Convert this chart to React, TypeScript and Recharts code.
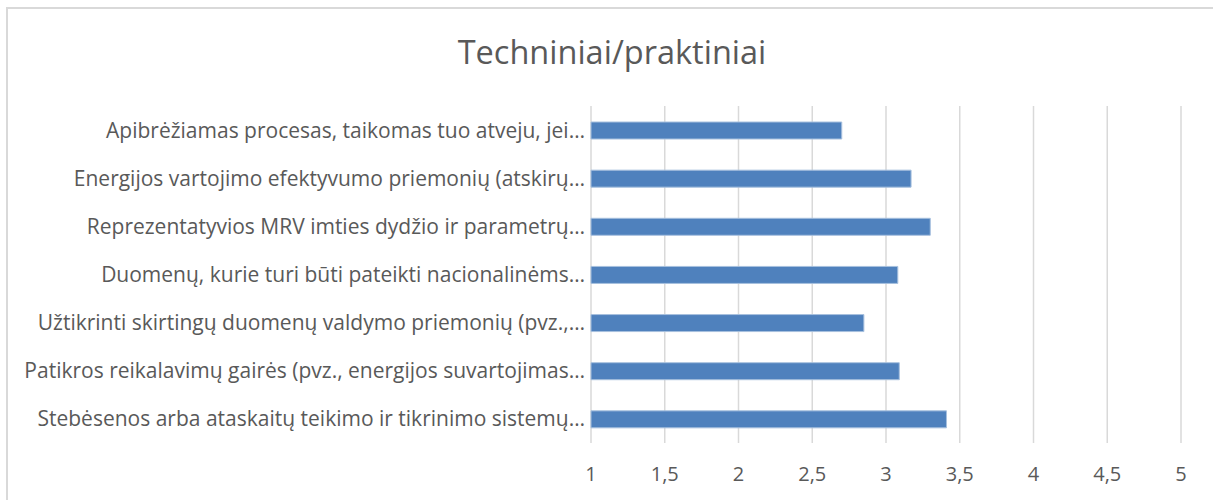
import React from 'react';
import { BarChart, Bar, XAxis, YAxis, CartesianGrid } from 'recharts';

const categories = [
  'Apibrėžiamas procesas, taikomas tuo atveju, jei…',
  'Energijos vartojimo efektyvumo priemonių (atskirų…',
  'Reprezentatyvios MRV imties dydžio ir parametrų…',
  'Duomenų, kurie turi būti pateikti nacionalinėms…',
  'Užtikrinti skirtingų duomenų valdymo priemonių (pvz.,…',
  'Patikros reikalavimų gairės (pvz., energijos suvartojimas…',
  'Stebėsenos arba ataskaitų teikimo ir tikrinimo sistemų…',
];
const scores = [2.7, 3.17, 3.3, 3.08, 2.85, 3.09, 3.41];
const xTicks = [1, 1.5, 2, 2.5, 3, 3.5, 4, 4.5, 5];

const data = categories.map((name, i) => ({ name, value: scores[i] }));

const FONT = '"Open Sans", Lato, sans-serif';
const TEXT = '#595959';

export default function App() {
  return (
    <div
      style={{
        position: 'absolute',
        left: 0,
        top: 0,
        width: 1213,
        height: 500,
        overflow: 'hidden',
        background: '#fff',
        fontFamily: FONT,
      }}
    >
      {/* chart frame, only top and left edges fall inside the crop */}
      <div
        style={{
          position: 'absolute',
          left: 6,
          top: 7,
          width: 1400,
          height: 700,
          border: '2px solid #d9d9d9',
          boxSizing: 'border-box',
        }}
      />
      <div
        style={{
          position: 'absolute',
          left: 0,
          top: 30,
          width: 1224,
          textAlign: 'center',
          fontSize: 32.5,
          color: TEXT,
          lineHeight: '44px',
        }}
      >
        Techniniai/praktiniai
      </div>
      <div style={{ position: 'absolute', left: 0, top: 0 }}>
        <BarChart
          width={1213}
          height={500}
          data={data}
          layout="vertical"
          margin={{ top: 106, right: 32, bottom: 0, left: 0 }}
        >
          <CartesianGrid horizontal={false} stroke="#d9d9d9" strokeWidth={1.5} />
          <XAxis
            type="number"
            domain={[1, 5]}
            ticks={xTicks}
            tickFormatter={(v: number) => String(v).replace('.', ',')}
            axisLine={false}
            tickLine={false}
            tickMargin={18}
            tick={{ fill: TEXT, fontSize: 20, fontFamily: FONT }}
            height={57}
          />
          <YAxis
            type="category"
            dataKey="name"
            width={591}
            axisLine={false}
            tickLine={false}
            tickMargin={0}
            interval={0}
            tick={{ fill: TEXT, fontSize: 21, fontFamily: FONT }}
          />
          <Bar
            dataKey="value"
            fill="#4f81bd"
            stroke="#a7c0de"
            strokeWidth={1}
            barSize={17}
            isAnimationActive={false}
          />
        </BarChart>
      </div>
    </div>
  );
}
